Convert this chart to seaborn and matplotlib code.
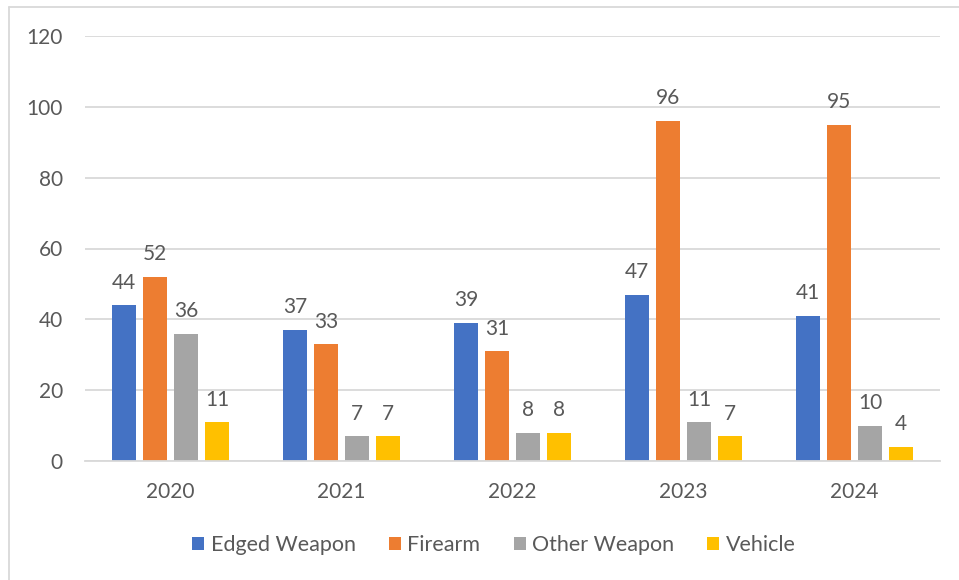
import matplotlib
matplotlib.use("Agg")
import matplotlib.pyplot as plt
import seaborn as sns
import pandas as pd
from matplotlib.lines import Line2D
from matplotlib.patches import Patch

years = ["2020", "2021", "2022", "2023", "2024"]
series_names = ["Edged Weapon", "Firearm", "Other Weapon", "Vehicle"]
edged = [44, 37, 39, 47, 41]
firearm = [52, 33, 31, 96, 95]
other = [36, 7, 8, 11, 10]
vehicle = [11, 7, 8, 7, 4]
colors = ["#4472C4", "#ED7D31", "#A5A5A5", "#FFC000"]

rows = []
for name, vals in zip(series_names, [edged, firearm, other, vehicle]):
    for y, v in zip(years, vals):
        rows.append({"Year": y, "Type": name, "Count": v})
df = pd.DataFrame(rows)

sns.set_theme(style="white")
plt.rcParams["font.family"] = ["Lato", "DejaVu Sans"]
text_color = "#595959"

fig = plt.figure(figsize=(9.59, 5.80), dpi=100)
ax = fig.add_axes([85/959, 1-461/580, (940-85)/959, (461-36)/580])

sns.barplot(data=df, x="Year", y="Count", hue="Type", hue_order=series_names,
            palette=colors, width=0.725, gap=0.22, ax=ax, legend=False,
            saturation=1, edgecolor="none")

for cont in ax.containers:
    ax.bar_label(cont, padding=9, fontsize=15, color=text_color)

ax.set_ylim(0, 120)
ax.set_yticks(range(0, 121, 20))
ax.set_xlim(-0.5, 4.5)
ax.yaxis.grid(True, color="#D9D9D9", linewidth=1.3)
ax.set_axisbelow(True)
for s in ["top", "right", "left"]:
    ax.spines[s].set_visible(False)
ax.spines["bottom"].set_color("#D9D9D9")
ax.spines["bottom"].set_linewidth(1.3)
ax.tick_params(axis="both", length=0, labelsize=15, colors=text_color)
ax.tick_params(axis="y", pad=16)
ax.tick_params(axis="x", pad=15)
ax.set_xlabel("")
ax.set_ylabel("")

handles = [Patch(facecolor=c, edgecolor="none") for c in colors]
fig.legend(handles, series_names, loc="center", bbox_to_anchor=(494/959, 1-545/580),
           ncol=4, frameon=False, fontsize=15.5, labelcolor=text_color,
           handlelength=0.55, handleheight=0.55, handletextpad=0.3, columnspacing=1.55)

# chart border (top and left visible)
fig.add_artist(Line2D([9/959, 1], [1-7/580, 1-7/580], color="#D9D9D9", linewidth=1.3,
                      transform=fig.transFigure))
fig.add_artist(Line2D([9/959, 9/959], [0, 1-7/580], color="#D9D9D9", linewidth=1.3,
                      transform=fig.transFigure))

fig.savefig("out.png", dpi=100)
